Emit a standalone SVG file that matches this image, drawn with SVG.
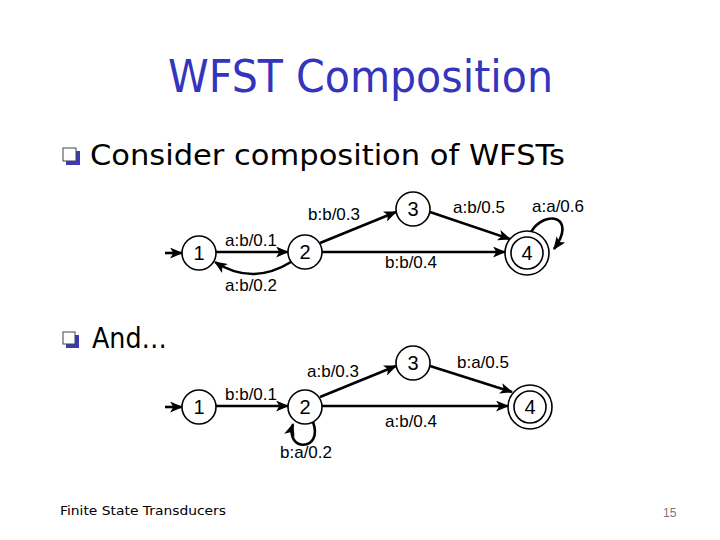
<svg xmlns="http://www.w3.org/2000/svg" width="720" height="540" viewBox="0 0 720 540">
<style>
.title{font-family:"DejaVu Sans","Liberation Sans",sans-serif;font-size:44px;fill:#3434bc}
.body{font-family:"DejaVu Sans","Liberation Sans",sans-serif;font-size:29px;fill:#000}
.lbl{font-family:"Liberation Sans",Arial,sans-serif;font-size:17px;fill:#000}
.num{font-family:"Liberation Sans",Arial,sans-serif;font-size:20px;fill:#000;text-anchor:middle}
.st{fill:#fff;stroke:#000;stroke-width:1.6}
.e{fill:none;stroke:#000;stroke-width:2.6;marker-end:url(#ah)}
.foot{font-family:"DejaVu Sans","Liberation Sans",sans-serif;font-size:13px;fill:#000}
</style>
<defs>
<marker id="ah" viewBox="0 0 12 10" refX="11" refY="5" markerUnits="userSpaceOnUse" markerWidth="13" markerHeight="11" orient="auto">
<path d="M0,0 L12,5 L0,10 L3,5 z" fill="#000"/>
</marker>
</defs>
<rect width="720" height="540" fill="#fff"/>
<text class="title" x="168" y="92" textLength="385" lengthAdjust="spacingAndGlyphs">WFST Composition</text>
<g id="bullet1"><rect x="66" y="151" width="14" height="14" fill="#3a3ab4"/><rect x="63" y="148" width="13" height="13" fill="#fff" stroke="#444" stroke-width="1"/></g>
<text class="body" x="90" y="165" textLength="475" lengthAdjust="spacingAndGlyphs">Consider composition of WFSTs</text>
<g id="bullet2"><rect x="66" y="335" width="13" height="13" fill="#3a3ab4"/><rect x="63" y="332" width="12" height="12" fill="#fff" stroke="#444" stroke-width="1"/></g>
<text class="body" x="92" y="348" textLength="75" lengthAdjust="spacingAndGlyphs">And…</text>

<g id="connectors">
<line class="e" x1="165" y1="253" x2="182" y2="253"/>
<line class="e" x1="215" y1="252" x2="288" y2="252"/>
<path class="e" d="M291,262 Q252,286 215,262"/>
<line class="e" x1="320" y1="243" x2="396" y2="212"/>
<line class="e" x1="322" y1="252" x2="505" y2="252"/>
<line class="e" x1="430" y1="212" x2="510" y2="239"/>
<path class="e" d="M531,232 C545,209 578,216 554,249"/>

<line class="e" x1="165" y1="407" x2="182" y2="407"/>
<line class="e" x1="215" y1="406" x2="288" y2="406"/>
<line class="e" x1="320" y1="397" x2="396" y2="366"/>
<line class="e" x1="322" y1="406" x2="508" y2="406"/>
<line class="e" x1="430" y1="366" x2="512" y2="392"/>
<path class="e" d="M313,422 C324,452 284,452 293,424"/>
</g>

<g id="top-n1"><circle class="st" cx="199" cy="253" r="17"/><text class="num" x="199" y="260">1</text></g>
<g id="top-n2"><circle class="st" cx="305" cy="252" r="17"/><text class="num" x="305" y="259">2</text></g>
<g id="top-n3"><circle class="st" cx="413" cy="209" r="17"/><text class="num" x="413" y="216">3</text></g>
<g id="top-n4"><circle class="st" cx="527" cy="253" r="22"/><circle class="st" cx="527" cy="253" r="16"/><text class="num" x="527" y="260">4</text></g>

<g id="top-labels">
<text class="lbl" x="225" y="246">a:b/0.1</text>
<text class="lbl" x="225" y="291">a:b/0.2</text>
<text class="lbl" x="308" y="220">b:b/0.3</text>
<text class="lbl" x="385" y="268">b:b/0.4</text>
<text class="lbl" x="453" y="213">a:b/0.5</text>
<text class="lbl" x="532" y="212">a:a/0.6</text>
</g>

<g id="bot-n1"><circle class="st" cx="199" cy="407" r="17"/><text class="num" x="199" y="414">1</text></g>
<g id="bot-n2"><circle class="st" cx="305" cy="407" r="17"/><text class="num" x="305" y="414">2</text></g>
<g id="bot-n3"><circle class="st" cx="413" cy="363" r="17"/><text class="num" x="413" y="370">3</text></g>
<g id="bot-n4"><circle class="st" cx="530" cy="407" r="22"/><circle class="st" cx="530" cy="407" r="16"/><text class="num" x="530" y="414">4</text></g>

<g id="bot-labels">
<text class="lbl" x="225" y="400">b:b/0.1</text>
<text class="lbl" x="307" y="377">a:b/0.3</text>
<text class="lbl" x="457" y="368">b:a/0.5</text>
<text class="lbl" x="385" y="427">a:b/0.4</text>
<text class="lbl" x="280" y="458">b:a/0.2</text>
</g>

<text class="foot" x="60" y="515" textLength="166" lengthAdjust="spacingAndGlyphs">Finite State Transducers</text>
<text x="663" y="517" font-family="Liberation Sans, sans-serif" font-size="12" fill="#777">15</text>
</svg>
